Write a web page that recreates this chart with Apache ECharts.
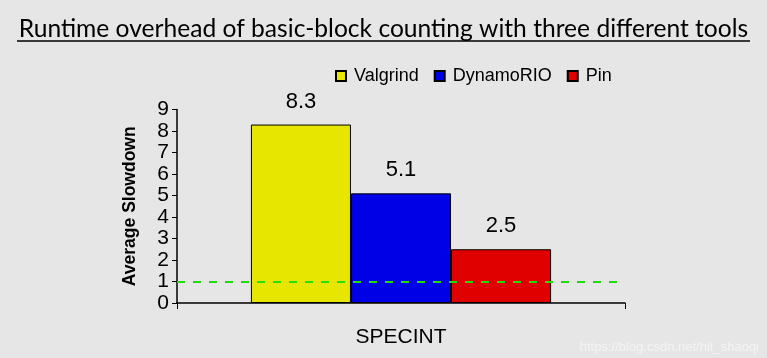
<!DOCTYPE html>
<html><head><meta charset="utf-8">
<script src="https://cdn.jsdelivr.net/npm/echarts@6/dist/echarts.min.js"></script>
<style>html,body{margin:0;padding:0;background:#e6e6e6}#c{width:767px;height:358px}</style>
</head><body><div id="c"></div>
<script>
const categories = ['SPECINT'];
const seriesNames = ['Valgrind', 'DynamoRIO', 'Pin'];
const seriesValues = [[8.3], [5.1], [2.5]];
const seriesColors = ['#e6e600', '#0000e6', '#e00000'];
const yTicks = [0, 1, 2, 3, 4, 5, 6, 7, 8, 9];
const baseline = 1;

const chart = echarts.init(document.getElementById('c'));
const series = seriesNames.map((n, i) => ({
  name: n, type: 'bar', data: seriesValues[i], barGap: '0%', barCategoryGap: '33%',
  itemStyle: { color: seriesColors[i], borderColor: '#000', borderWidth: 1 },
  label: { show: true, position: 'top', distance: 12, color: '#000', fontSize: 22, fontFamily: 'Liberation Sans', formatter: p => p.value.toFixed(1) },
  markLine: i === 0 ? { silent: true, symbol: 'none', label: { show: false },
    lineStyle: { color: '#22dd00', type: [8, 8], width: 2 }, data: [{ yAxis: baseline }] } : undefined
}));
chart.setOption({
  backgroundColor: '#e6e6e6',
  animation: false,
  title: { text: 'Runtime overhead of basic-block counting with three different tools', left: 'center', top: 12,
    textStyle: { fontFamily: 'Lato', fontWeight: 'normal', fontSize: 24.6, color: '#000' } },
  legend: { top: 62, left: 330, itemWidth: 10, itemHeight: 10, itemGap: 15, icon: 'rect',
    textStyle: { fontFamily: 'Liberation Sans', fontSize: 18, color: '#000', padding: [0, 0, 0, 3] } },
  grid: { left: 177, right: 142, top: 109.5, bottom: 55 },
  xAxis: { type: 'category', data: categories,
    axisLine: { lineStyle: { color: '#000', width: 1.5 } },
    axisTick: { show: true, length: 6, lineStyle: { color: '#000' } },
    axisLabel: { color: '#000', fontSize: 21, fontFamily: 'Liberation Sans', margin: 24 } },
  yAxis: { type: 'value', min: 0, max: 9, interval: 1, name: 'Average Slowdown', nameLocation: 'middle', nameGap: 38,
    nameTextStyle: { fontFamily: 'Liberation Sans', fontWeight: 'bold', fontSize: 17.5, color: '#000' },
    axisLine: { show: true, lineStyle: { color: '#000', width: 1.5 } },
    axisTick: { show: true, length: 5, lineStyle: { color: '#000' } },
    splitLine: { show: false },
    axisLabel: { color: '#000', fontSize: 21, fontFamily: 'Liberation Sans', margin: 8,
      formatter: v => yTicks.includes(v) ? String(v) : '' } },
  graphic: [
    { type: 'line', shape: { x1: 17, y1: 41, x2: 750, y2: 41 }, style: { stroke: '#000', lineWidth: 1.5 } },
    { type: 'text', right: 8, bottom: 4, style: { text: 'https://blog.csdn.net/hit_shaoqi', fill: '#f4f4f4', font: '13px Liberation Sans' } }
  ],
  series
});
</script></body></html>
